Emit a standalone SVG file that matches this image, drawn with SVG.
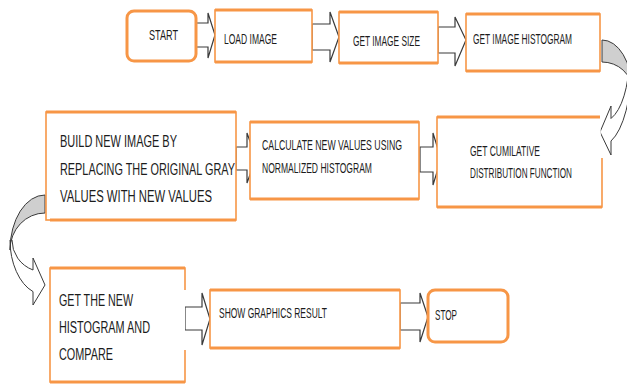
<svg xmlns="http://www.w3.org/2000/svg" width="627" height="385" viewBox="0 0 627 385">
<style>
.bg{fill:#ffffff}
.box{fill:#ffffff;stroke:#f79646;stroke-width:1.6}
.thick{fill:none;stroke:#f79646;stroke-width:3.2}
.rbox{fill:#ffffff;stroke:#f79646;stroke-width:3}
.arr{fill:#ffffff;stroke:#3a3a3a;stroke-width:1.2;stroke-linejoin:miter}
.curve{fill:#ffffff;stroke:#3a3a3a;stroke-width:1}
.shade{fill:#cfcfcf;stroke:#3a3a3a;stroke-width:1}
text{font-family:"Liberation Sans",Arial,sans-serif;fill:#1c1c1c;font-size:14.5px}
.big{font-size:17px}
</style>
<rect class="bg" x="0" y="0" width="627" height="385"/>
<g id="connectors">
<polygon class="arr" points="196,23 208,23 208,13 215,35 208,58 208,47 196,47"/>
<polygon class="arr" points="312,24 330,24 330,12 339,37 330,62 330,50 312,50"/>
<polygon class="arr" points="438,27 455,27 455,17 466,40 455,66 455,53 438,53"/>
<polygon class="arr" points="236,147 247,147 247,133 256,158 247,183 247,170 236,170"/>
<polygon class="arr" points="420,147 433,147 433,133 441,159 433,185 433,172 420,172"/>
<polygon class="arr" points="185,307 202,307 202,293 210,319 202,345 202,330 185,330"/>
<polygon class="arr" points="400,303 420,303 420,293 428,317 420,342 420,330 400,330"/>
<path class="curve" d="M632,60 A30,85 0 0 1 611,141 L611,155 L600,132 L611,106 L611,118.5 A27,62 0 0 0 629,60 Z"/>
<path class="shade" d="M602,40 A30,50 0 0 1 632,90 A30,28 0 0 0 602,62 Z"/>
<path class="curve" d="M10,240 A35,55 0 0 0 33,291.6 L33,305 L45,285 L33,258 L33,270 A33,32 0 0 1 12,240 Z"/>
<path class="shade" d="M45,195 A35,55 0 0 0 10,250 A35,37 0 0 1 45,213 Z"/>
</g>
<g id="start">
<rect class="rbox" x="127" y="11" width="69" height="50" rx="7"/>
<text transform="translate(149,40) scale(0.62,1)" textLength="46.8" lengthAdjust="spacingAndGlyphs">START</text>
</g>
<g id="load-image">
<rect class="box" x="215" y="10" width="97" height="52"/>
<path class="thick" d="M215,10 H312 M215,62 H312"/>
<text transform="translate(224,44) scale(0.62,1)" textLength="85.5" lengthAdjust="spacingAndGlyphs">LOAD IMAGE</text>
</g>
<g id="get-image-size">
<rect class="box" x="339" y="12" width="99" height="51"/>
<path class="thick" d="M339,12 H438 M339,63 H438"/>
<text transform="translate(353,46) scale(0.62,1)" textLength="108" lengthAdjust="spacingAndGlyphs">GET IMAGE SIZE</text>
</g>
<g id="get-image-histogram">
<rect class="box" x="466" y="14" width="134" height="57"/>
<path class="thick" d="M466,14 H600 M466,71 H600"/>
<text transform="translate(473,44) scale(0.62,1)" textLength="159.7" lengthAdjust="spacingAndGlyphs">GET IMAGE HISTOGRAM</text>
</g>
<g id="get-cdf">
<path class="box" d="M602,158 V207 H437 V117 H600"/>
<path class="thick" d="M437,117 H600 M437,207 H602"/>
<text transform="translate(470,156) scale(0.62,1)" textLength="112.9" lengthAdjust="spacingAndGlyphs">GET CUMILATIVE</text>
<text transform="translate(470,178) scale(0.62,1)" textLength="164.5" lengthAdjust="spacingAndGlyphs">DISTRIBUTION FUNCTION</text>
</g>
<g id="calculate-new-values">
<rect class="box" x="250" y="122" width="169" height="77"/>
<path class="thick" d="M250,122 H419 M250,199 H419"/>
<text transform="translate(262,150) scale(0.62,1)" textLength="225.8" lengthAdjust="spacingAndGlyphs">CALCULATE NEW VALUES USING</text>
<text transform="translate(262,173) scale(0.62,1)" textLength="177.4" lengthAdjust="spacingAndGlyphs">NORMALIZED HISTOGRAM</text>
</g>
<g id="build-new-image">
<rect class="box" x="46" y="112" width="190" height="108"/>
<path class="thick" d="M46,112 H236 M50,220 H236"/>
<text class="big" transform="translate(60,147) scale(0.62,1)" textLength="188.7" lengthAdjust="spacingAndGlyphs">BUILD NEW IMAGE BY</text>
<text class="big" transform="translate(60,175) scale(0.62,1)" textLength="282.3" lengthAdjust="spacingAndGlyphs">REPLACING THE ORIGINAL GRAY</text>
<text class="big" transform="translate(60,202) scale(0.62,1)" textLength="245.2" lengthAdjust="spacingAndGlyphs">VALUES WITH NEW VALUES</text>
</g>
<g id="get-new-histogram">
<path class="box" d="M185,290 V268 H50 V382 H185 V350"/>
<path class="thick" d="M50,268 H185 M50,382 H185"/>
<text class="big" transform="translate(59,306) scale(0.62,1)" textLength="119.4" lengthAdjust="spacingAndGlyphs">GET THE NEW</text>
<text class="big" transform="translate(59,333) scale(0.62,1)" textLength="146.8" lengthAdjust="spacingAndGlyphs">HISTOGRAM AND</text>
<text class="big" transform="translate(59,360) scale(0.62,1)" textLength="87.1" lengthAdjust="spacingAndGlyphs">COMPARE</text>
</g>
<g id="show-graphics-result">
<rect class="box" x="210" y="290" width="190" height="58"/>
<path class="thick" d="M210,290 H400 M210,348 H400"/>
<text transform="translate(219,318) scale(0.62,1)" textLength="174.2" lengthAdjust="spacingAndGlyphs">SHOW GRAPHICS RESULT</text>
</g>
<g id="stop">
<rect class="rbox" x="428" y="290" width="80" height="52" rx="7"/>
<text transform="translate(435,320) scale(0.62,1)" textLength="35.5" lengthAdjust="spacingAndGlyphs">STOP</text>
</g>
</svg>
